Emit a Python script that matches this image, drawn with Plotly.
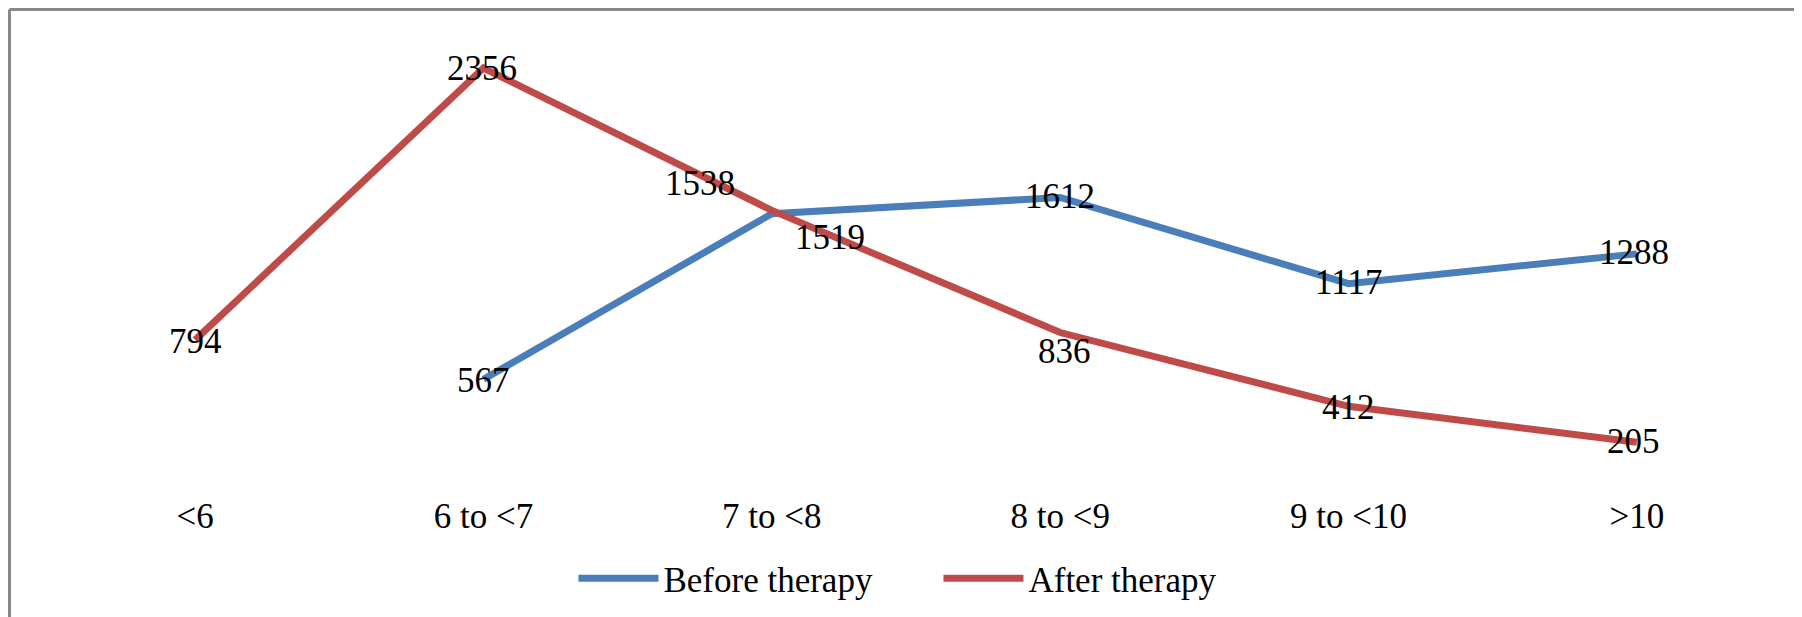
import plotly.graph_objects as go

categories = ["<6", "6 to <7", "7 to <8", "8 to <9", "9 to <10", ">10"]
before_therapy = [None, 567, 1519, 1612, 1117, 1288]
after_therapy = [794, 2356, 1538, 836, 412, 205]

# label pixel offsets (style only)
before_shift = [(0, 0), (0, -2), (58, -25), (0, 0), (0, 0), (-3, 0)]
after_shift = [(0, -3), (-2, -1), (-72, 26), (4, -20), (0, -2), (-3, 0)]

BLUE = "#4A7EBB"
RED = "#BE4B48"
FONT = "Liberation Serif"
FS = 35

fig = go.Figure()
fig.add_trace(go.Scatter(x=categories, y=before_therapy, mode="lines", name="Before therapy",
                         line=dict(color=BLUE, width=7), connectgaps=False))
fig.add_trace(go.Scatter(x=categories, y=after_therapy, mode="lines", name="After therapy",
                         line=dict(color=RED, width=7)))

annotations = []
for vals, shifts in ((before_therapy, before_shift), (after_therapy, after_shift)):
    for c, v, (dx, dy) in zip(categories, vals, shifts):
        if v is None:
            continue
        annotations.append(dict(x=c, y=v, xref="x", yref="y", text=str(v), showarrow=False,
                                xshift=dx, yshift=dy + 1, font=dict(family=FONT, size=FS, color="black"),
                                xanchor="center", yanchor="middle"))

fig.update_layout(
    width=1802, height=617,
    margin=dict(l=43, r=29, t=35, b=147),
    paper_bgcolor="white", plot_bgcolor="white",
    font=dict(family=FONT, size=FS, color="black"),
    showlegend=True,
    legend=dict(orientation="h", x=0.302, xanchor="left", y=-0.231, yanchor="middle",
                font=dict(family=FONT, size=FS, color="black"), itemwidth=80,
                entrywidth=270, bgcolor="rgba(0,0,0,0)"),
    annotations=annotations,
    shapes=[
        dict(type="line", xref="paper", yref="paper", x0=-0.0240, x1=1.02, y0=1.077, y1=1.077,
             line=dict(color="#888888", width=3)),
        dict(type="line", xref="paper", yref="paper", x0=-0.0240, x1=-0.0240, y0=1.077, y1=-0.35,
             line=dict(color="#888888", width=3)),
    ],
)
fig.update_xaxes(type="category", range=[-0.5, 5.5], showgrid=False, zeroline=False, showline=False,
                 ticks="", ticklabelstandoff=14, tickfont=dict(family=FONT, size=FS, color="black"))
fig.update_yaxes(range=[0, 2500], showgrid=False, zeroline=False, showline=False,
                 showticklabels=False, ticks="")

fig.write_html("out.html")
